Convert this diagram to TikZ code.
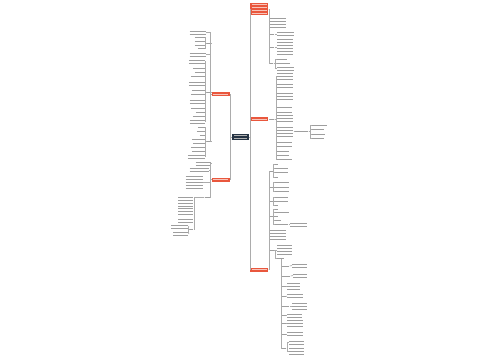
\documentclass[tikz,border=0pt]{standalone}
\usetikzlibrary{positioning}

\definecolor{mapred}{RGB}{233,87,61}
\definecolor{mapredtext}{RGB}{248,196,186}
\definecolor{mapnavy}{RGB}{38,52,68}
\definecolor{maplink}{RGB}{172,172,172}
\definecolor{mapink}{RGB}{158,158,158}

% rows of unreadable text, #1 rows, #2 px wide
\newcount\lncount
\newcommand\txtrows[2]{\vbox{\lncount=0 \loop\ifnum\lncount<#1 \ifnum\lncount>0 \vskip1.55pt\relax\fi\hrule width \dimexpr #2pt*3/4\relax height .7pt depth 0pt\relax\advance\lncount by 1 \repeat}}

\tikzset{every picture/.style={line width=0.5pt},
  lnk/.style={draw=maplink, line width=0.5pt},
  rootbox/.style={fill=mapnavy, text=gray!60, inner sep=0pt, minimum width=12.75pt, minimum height=4.5pt},
  redbox/.style={fill=mapred, text=mapredtext, inner sep=0.6pt, minimum width=13.5pt, minimum height=3pt},
  rtxt/.style={anchor=west, inner sep=0pt, text=mapink},
  ltxt/.style={anchor=east, inner sep=0pt, text=mapink}}

\begin{document}
\begin{tikzpicture}[x=0.75pt,y=0.75pt,yscale=-1,xscale=1]
\useasboundingbox (0,0) rectangle (500,360);

% Root
\node[rootbox] (root) at (240.5,137) {\txtrows{2}{13}};

% Main branches
\node[redbox, anchor=west, minimum height=9.25pt] (r1) at (250,9) {\txtrows{4}{15}};
\node[redbox, anchor=west] (r2) at (250,119.5) {\txtrows{1}{15}};
\node[redbox, anchor=west] (r3) at (250,269.5) {\txtrows{1}{15}};
\node[redbox, anchor=east] (l1) at (230,94.5) {\txtrows{1}{15}};
\node[redbox, anchor=east] (l2) at (230,179.5) {\txtrows{1}{15}};

\draw[lnk] (root.east) -- ++(0.5,0) |- (r1.west);
\draw[lnk] (root.east) -- ++(0.5,0) |- (r2.west);
\draw[lnk] (root.east) -- ++(0.5,0) |- (r3.west);
\draw[lnk] (root.west) -- ++(-1,0) |- (l1.east);
\draw[lnk] (root.west) -- ++(-1,0) |- (l2.east);

% Text Node -- branch r1
\node[rtxt] (a1) at (270,22.5) {\txtrows{4}{16}};
\node[rtxt] (a2) at (270,34) {\txtrows{1}{4}};
\node[rtxt] (a2t) at (277,34) {\txtrows{2}{17}};
\node[rtxt] (a3) at (270,47) {\txtrows{1}{4}};
\node[rtxt] (a3t) at (277,47) {\txtrows{6}{16}};
\node[rtxt] (a4) at (270,63) {\txtrows{1}{3}};
\node[rtxt] (a4t1) at (277,59) {\txtrows{1}{10}};
\node[rtxt] (a4t2) at (277,63) {\txtrows{1}{13}};
\node[rtxt] (a4t3) at (277,68.5) {\txtrows{2}{17}};

\draw[lnk] (r1.east) -- ++(0.8,0) |- (a1.west);
\draw[lnk] (r1.east) -- ++(0.8,0) |- (a2.west);
\draw[lnk] (r1.east) -- ++(0.8,0) |- (a3.west);
\draw[lnk] (r1.east) -- ++(0.8,0) |- (a4.west);
\draw[lnk] (a2.east) -- (a2t.west);
\draw[lnk] (a3.east) -- (a3t.west);
\draw[lnk] (a4.east) -- ++(1.5,0) |- (a4t1.west);
\draw[lnk] (a4.east) -- (a4t2.west);
\draw[lnk] (a4.east) -- ++(1.5,0) |- (a4t3.west);

% Text Node -- branch r2
\node[rtxt] (b1) at (270,119.5) {\txtrows{1}{4}};
\node[rtxt] (b1a) at (277,76.5) {\txtrows{3}{16}};
\node[rtxt] (b1b) at (277,85.5) {\txtrows{2}{16}};
\node[rtxt] (b1c) at (277,96) {\txtrows{3}{16}};
\node[rtxt] (b1d) at (277,107) {\txtrows{1}{15}};
\node[rtxt] (b1e) at (277,112) {\txtrows{1}{15}};
\node[rtxt] (b1f) at (277,118.5) {\txtrows{3}{16}};
\node[rtxt] (b1g) at (277,131.5) {\txtrows{4}{16}};
\node[rtxt] (b1h) at (277,142) {\txtrows{1}{15}};
\node[rtxt] (b1i) at (277,146.5) {\txtrows{1}{15}};
\node[rtxt] (b1j) at (277,151) {\txtrows{1}{12}};
\node[rtxt] (b1k) at (277,155) {\txtrows{1}{12}};
\node[rtxt] (b1l) at (277,159) {\txtrows{1}{15}};
\node[rtxt] (bg) at (295,131.5) {\txtrows{1}{13}};
\node[rtxt] (bg1) at (311.5,125) {\txtrows{1}{15}};
\node[rtxt] (bg2) at (311.5,129.5) {\txtrows{1}{12}};
\node[rtxt] (bg3) at (311.5,134) {\txtrows{1}{13}};
\node[rtxt] (bg4) at (311.5,138.5) {\txtrows{1}{12}};

\draw[lnk] (r2.east) -- (b1.west);
\draw[lnk] (b1.east) -- ++(1.5,0) |- (b1a.west);
\draw[lnk] (b1.east) -- ++(1.5,0) |- (b1b.west);
\draw[lnk] (b1.east) -- ++(1.5,0) |- (b1c.west);
\draw[lnk] (b1.east) -- ++(1.5,0) |- (b1d.west);
\draw[lnk] (b1.east) -- ++(1.5,0) |- (b1e.west);
\draw[lnk] (b1.east) -- ++(1.5,0) |- (b1f.west);
\draw[lnk] (b1.east) -- ++(1.5,0) |- (b1g.west);
\draw[lnk] (b1.east) -- ++(1.5,0) |- (b1h.west);
\draw[lnk] (b1.east) -- ++(1.5,0) |- (b1i.west);
\draw[lnk] (b1.east) -- ++(1.5,0) |- (b1j.west);
\draw[lnk] (b1.east) -- ++(1.5,0) |- (b1k.west);
\draw[lnk] (b1.east) -- ++(1.5,0) |- (b1l.west);
\draw[lnk] (b1g.east) -- (bg.west);
\draw[lnk] (bg.east) -- ++(1.5,0) |- (bg1.west);
\draw[lnk] (bg.east) -- ++(1.5,0) |- (bg2.west);
\draw[lnk] (bg.east) -- ++(1.5,0) |- (bg3.west);
\draw[lnk] (bg.east) -- ++(1.5,0) |- (bg4.west);

% Text Node -- branch r3
\node[rtxt] (c1) at (269.8,171) {\txtrows{1}{2.5}};
\node[rtxt] (c1t1) at (274,164) {\txtrows{1}{4}};
\node[rtxt] (c1t2) at (274,168) {\txtrows{1}{14}};
\node[rtxt] (c1t3) at (274,172.5) {\txtrows{1}{14}};
\node[rtxt] (c1t4) at (274,177) {\txtrows{1}{4}};
\node[rtxt] (c2) at (269.8,187) {\txtrows{1}{2.5}};
\node[rtxt] (c2t1) at (274,182.5) {\txtrows{1}{15}};
\node[rtxt] (c2t2) at (274,187) {\txtrows{1}{15}};
\node[rtxt] (c2t3) at (274,191.5) {\txtrows{1}{15}};
\node[rtxt] (c3) at (269.8,201) {\txtrows{1}{2.5}};
\node[rtxt] (c3t1) at (274,197) {\txtrows{1}{14}};
\node[rtxt] (c3t2) at (274,201) {\txtrows{1}{14}};
\node[rtxt] (c3t3) at (274,205) {\txtrows{1}{4}};
\node[rtxt] (c4) at (269.8,216.5) {\txtrows{1}{2.5}};
\node[rtxt] (c4t1) at (274,209) {\txtrows{1}{4}};
\node[rtxt] (c4t2) at (274,212.5) {\txtrows{1}{15}};
\node[rtxt] (c4t3) at (274,216.5) {\txtrows{1}{4}};
\node[rtxt] (c4t4) at (274,220.5) {\txtrows{1}{7}};
\node[rtxt] (c4t5) at (274,224.5) {\txtrows{1}{14}};
\node[rtxt] (c4x) at (290,224.5) {\txtrows{2}{17}};
\node[rtxt] (c5) at (270,235) {\txtrows{4}{16}};
\node[rtxt] (c6) at (269.8,250) {\txtrows{1}{3.5}};
\node[rtxt] (c6t) at (277,250) {\txtrows{4}{15}};
\node[rtxt] (c7) at (277,258.3) {\txtrows{1}{7}};

\draw[lnk] (r3.east) -- ++(0.8,0) |- (c1.west);
\draw[lnk] (r3.east) -- ++(0.8,0) |- (c2.west);
\draw[lnk] (r3.east) -- ++(0.8,0) |- (c3.west);
\draw[lnk] (r3.east) -- ++(0.8,0) |- (c4.west);
\draw[lnk] (r3.east) -- ++(0.8,0) |- (c5.west);
\draw[lnk] (r3.east) -- ++(0.8,0) |- (c6.west);
\draw[lnk] (c1.east) -- ++(0.8,0) |- (c1t1.west);
\draw[lnk] (c1.east) -- ++(0.8,0) |- (c1t2.west);
\draw[lnk] (c1.east) -- ++(0.8,0) |- (c1t3.west);
\draw[lnk] (c1.east) -- ++(0.8,0) |- (c1t4.west);
\draw[lnk] (c2.east) -- ++(0.8,0) |- (c2t1.west);
\draw[lnk] (c2.east) -- (c2t2.west);
\draw[lnk] (c2.east) -- ++(0.8,0) |- (c2t3.west);
\draw[lnk] (c3.east) -- ++(0.8,0) |- (c3t1.west);
\draw[lnk] (c3.east) -- (c3t2.west);
\draw[lnk] (c3.east) -- ++(0.8,0) |- (c3t3.west);
\draw[lnk] (c4.east) -- ++(0.8,0) |- (c4t1.west);
\draw[lnk] (c4.east) -- ++(0.8,0) |- (c4t2.west);
\draw[lnk] (c4.east) -- (c4t3.west);
\draw[lnk] (c4.east) -- ++(0.8,0) |- (c4t4.west);
\draw[lnk] (c4.east) -- ++(0.8,0) |- (c4t5.west);
\draw[lnk] (c4t5.east) -- (c4x.west);
\draw[lnk] (c6.east) -- (c6t.west);
\draw[lnk] (c6.east) -- ++(1.5,0) |- (c7.west);

% Text Node -- list under c7
\node[rtxt] (d1) at (282,266) {\txtrows{1}{7}};
\node[rtxt] (d1t) at (292,265.5) {\txtrows{2}{15}};
\node[rtxt] (d2) at (282,276) {\txtrows{1}{8}};
\node[rtxt] (d2t) at (293,275.5) {\txtrows{2}{14}};
\node[rtxt] (d3) at (282,286) {\txtrows{1}{3.5}};
\node[rtxt] (d3t) at (287,286) {\txtrows{3}{13}};
\node[rtxt] (d4) at (282,296.5) {\txtrows{1}{3.5}};
\node[rtxt] (d4t) at (287,296) {\txtrows{2}{16}};
\node[rtxt] (d5) at (282,306) {\txtrows{1}{7}};
\node[rtxt] (d5t) at (292,306) {\txtrows{3}{15}};
\node[rtxt] (d6) at (282,315.5) {\txtrows{1}{3.5}};
\node[rtxt] (d6t) at (287,315.5) {\txtrows{2}{15}};
\node[rtxt] (d7) at (282,323.5) {\txtrows{1}{3.5}};
\node[rtxt] (d7t) at (287,323.5) {\txtrows{3}{16}};
\node[rtxt] (d8) at (282,334) {\txtrows{1}{3.5}};
\node[rtxt] (d8t) at (287,334) {\txtrows{2}{16}};
\node[rtxt] (d9) at (282,348) {\txtrows{1}{4}};
\node[rtxt] (d9t1) at (289,342.5) {\txtrows{2}{15}};
\node[rtxt] (d9t2) at (289,351.5) {\txtrows{3}{15}};

\draw[lnk] (c7.south) |- (d1.west);
\draw[lnk] (c7.south) |- (d2.west);
\draw[lnk] (c7.south) |- (d3.west);
\draw[lnk] (c7.south) |- (d4.west);
\draw[lnk] (c7.south) |- (d5.west);
\draw[lnk] (c7.south) |- (d6.west);
\draw[lnk] (c7.south) |- (d7.west);
\draw[lnk] (c7.south) |- (d8.west);
\draw[lnk] (c7.south) |- (d9.west);
\draw[lnk] (d1.east) -- (d1t.west);
\draw[lnk] (d2.east) -- (d2t.west);
\draw[lnk] (d3.east) -- (d3t.west);
\draw[lnk] (d4.east) -- (d4t.west);
\draw[lnk] (d5.east) -- (d5t.west);
\draw[lnk] (d6.east) -- (d6t.west);
\draw[lnk] (d7.east) -- (d7t.west);
\draw[lnk] (d8.east) -- (d8t.west);
\draw[lnk] (d9.east) -- ++(1,0) |- (d9t1.west);
\draw[lnk] (d9.east) -- ++(1,0) |- (d9t2.west);

% Text Node -- branch l1
\node[ltxt] (e1) at (206,32.5) {\txtrows{2}{16}};
\node[ltxt] (e2) at (211,43) {\txtrows{1}{4}};
\node[ltxt] (e2t1) at (205.3,37) {\txtrows{1}{10}};
\node[ltxt] (e2t2) at (205.3,41) {\txtrows{1}{10}};
\node[ltxt] (e2t3) at (205.3,45) {\txtrows{1}{10}};
\node[ltxt] (e2t4) at (205.3,48.5) {\txtrows{1}{7}};
\node[ltxt] (e3) at (206,54.5) {\txtrows{2}{16}};
\node[ltxt] (e4) at (211,92) {\txtrows{1}{4}};
\node[ltxt] (e4t1) at (205.3,61.5) {\txtrows{2}{16}};
\node[ltxt] (e4t2) at (205.3,68.5) {\txtrows{1}{12}};
\node[ltxt] (e4t3) at (205.3,72.5) {\txtrows{1}{10}};
\node[ltxt] (e4t4) at (205.3,76.5) {\txtrows{1}{14}};
\node[ltxt] (e4t5) at (205.3,83.5) {\txtrows{2}{16}};
\node[ltxt] (e4t6) at (205.3,90) {\txtrows{1}{13}};
\node[ltxt] (e4t7) at (205.3,94) {\txtrows{1}{14}};
\node[ltxt] (e4t8) at (205.3,101.5) {\txtrows{2}{15}};
\node[ltxt] (e4t9) at (205.3,108.5) {\txtrows{1}{14}};
\node[ltxt] (e4t10) at (205.3,112.5) {\txtrows{1}{9}};
\node[ltxt] (e4t11) at (205.3,116.5) {\txtrows{1}{12}};
\node[ltxt] (e4t12) at (205.3,121.5) {\txtrows{2}{15}};
\node[ltxt] (e5) at (211,141.5) {\txtrows{1}{4}};
\node[ltxt] (e5t1) at (205.3,127) {\txtrows{1}{7}};
\node[ltxt] (e5t2) at (205.3,131.5) {\txtrows{1}{8}};
\node[ltxt] (e5t3) at (205.3,135.5) {\txtrows{1}{5}};
\node[ltxt] (e5t4) at (205.3,139.5) {\txtrows{1}{13}};
\node[ltxt] (e5t5) at (205.3,143.5) {\txtrows{1}{12}};
\node[ltxt] (e5t6) at (205.3,147.5) {\txtrows{1}{14}};
\node[ltxt] (e5t7) at (205.3,151.5) {\txtrows{1}{13}};
\node[ltxt] (e5t8) at (205.3,156.5) {\txtrows{2}{17}};

\draw[lnk] (l1.west) -- ++(-0.8,0) |- (e1.east);
\draw[lnk] (l1.west) -- ++(-0.8,0) |- (e2.east);
\draw[lnk] (l1.west) -- ++(-0.8,0) |- (e3.east);
\draw[lnk] (l1.west) -- ++(-0.8,0) |- (e4.east);
\draw[lnk] (l1.west) -- ++(-0.8,0) |- (e5.east);
\draw[lnk] (e2.west) -- ++(-0.8,0) |- (e2t1.east);
\draw[lnk] (e2.west) -- ++(-0.8,0) |- (e2t2.east);
\draw[lnk] (e2.west) -- ++(-0.8,0) |- (e2t3.east);
\draw[lnk] (e2.west) -- ++(-0.8,0) |- (e2t4.east);
\draw[lnk] (e4.west) -- ++(-0.8,0) |- (e4t1.east);
\draw[lnk] (e4.west) -- ++(-0.8,0) |- (e4t2.east);
\draw[lnk] (e4.west) -- ++(-0.8,0) |- (e4t3.east);
\draw[lnk] (e4.west) -- ++(-0.8,0) |- (e4t4.east);
\draw[lnk] (e4.west) -- ++(-0.8,0) |- (e4t5.east);
\draw[lnk] (e4.west) -- ++(-0.8,0) |- (e4t6.east);
\draw[lnk] (e4.west) -- ++(-0.8,0) |- (e4t7.east);
\draw[lnk] (e4.west) -- ++(-0.8,0) |- (e4t8.east);
\draw[lnk] (e4.west) -- ++(-0.8,0) |- (e4t9.east);
\draw[lnk] (e4.west) -- ++(-0.8,0) |- (e4t10.east);
\draw[lnk] (e4.west) -- ++(-0.8,0) |- (e4t11.east);
\draw[lnk] (e4.west) -- ++(-0.8,0) |- (e4t12.east);
\draw[lnk] (e5.west) -- ++(-0.8,0) |- (e5t1.east);
\draw[lnk] (e5.west) -- ++(-0.8,0) |- (e5t2.east);
\draw[lnk] (e5.west) -- ++(-0.8,0) |- (e5t3.east);
\draw[lnk] (e5.west) -- ++(-0.8,0) |- (e5t4.east);
\draw[lnk] (e5.west) -- ++(-0.8,0) |- (e5t5.east);
\draw[lnk] (e5.west) -- ++(-0.8,0) |- (e5t6.east);
\draw[lnk] (e5.west) -- ++(-0.8,0) |- (e5t7.east);
\draw[lnk] (e5.west) -- ++(-0.8,0) |- (e5t8.east);

% Text Node -- branch l2
\node[ltxt] (f1) at (211,163.5) {\txtrows{2}{15}};
\node[ltxt] (f2) at (209,170) {\txtrows{2}{19}};
\node[ltxt] (f3) at (203,182.5) {\txtrows{5}{17}};
\node[ltxt] (f4) at (210,197) {\txtrows{1}{5}};
\node[ltxt] (g1) at (193.5,202) {\txtrows{4}{15}};
\node[ltxt] (g2) at (193.5,211.5) {\txtrows{3}{15}};
\node[ltxt] (g3) at (193.5,220.5) {\txtrows{2}{15}};
\node[ltxt] (g4) at (193.5,229.5) {\txtrows{1}{3.5}};
\node[ltxt] (h1) at (188.5,226.5) {\txtrows{2}{17}};
\node[ltxt] (h2) at (188.5,233.5) {\txtrows{2}{15}};

\draw[lnk] (l2.west) -- ++(-0.8,0) |- (f1.east);
\draw[lnk] (l2.west) -- ++(-0.8,0) |- (f2.east);
\draw[lnk] (l2.west) -- ++(-0.8,0) |- (f3.east);
\draw[lnk] (l2.west) -- ++(-0.8,0) |- (f4.east);
\draw[lnk] (f4.west) -- ++(-10,0) |- (g1.east);
\draw[lnk] (f4.west) -- ++(-10,0) |- (g2.east);
\draw[lnk] (f4.west) -- ++(-10,0) |- (g3.east);
\draw[lnk] (f4.west) -- ++(-10,0) |- (g4.east);
\draw[lnk] (g4.west) -- ++(-0.8,0) |- (h1.east);
\draw[lnk] (g4.west) -- ++(-0.8,0) |- (h2.east);
\end{tikzpicture}
\end{document}
